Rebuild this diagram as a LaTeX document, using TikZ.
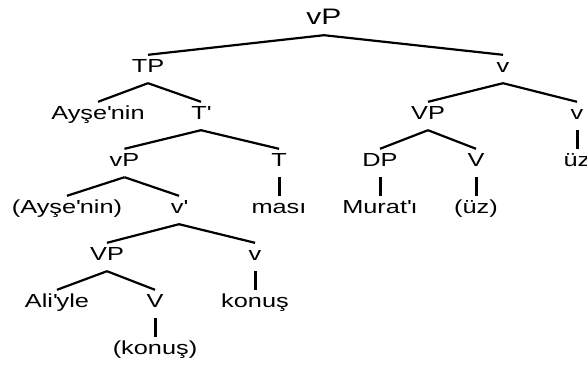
\documentclass[tikz,border=0pt]{standalone}
\usepackage{fontspec}
\setmainfont{Liberation Sans}[FakeStretch=1.34]
\usetikzlibrary{positioning}

\begin{document}
\begin{tikzpicture}[node distance=47pt,on grid]
  \tikzstyle{word}=[inner sep=0pt,text height=17.8pt,text depth=10.2pt,font=\fontsize{18.9pt}{20pt}\selectfont]
  \tikzstyle{rootword}=[inner sep=0pt,text height=20pt,text depth=11pt,font=\fontsize{22.4pt}{24pt}\selectfont]
  \tikzstyle{branch}=[line width=2.2pt]
  \tikzstyle{bar}=[line width=3pt]

  \useasboundingbox (0pt,0pt) rectangle (587pt,-367pt);

  % Top
  \node[rootword] (vP) at (324pt,-19.5pt) {vP};

  \node[word] (TP) [below left=49.5pt and 176pt of vP] {TP};
  \node[word] (v1) [below right=49.5pt and 179pt of vP] {v};

  % Left block (TP)
  \node[word] (Ayse) [below left=47pt and 50pt of TP] {Ayşe\textquotesingle nin};
  \node[word] (Tbar) [below right=47pt and 53pt of TP] {T\textquotesingle};

  \node[word] (vP2) [below left=47pt and 76.5pt of Tbar] {vP};
  \node[word] (T) [below right=47pt and 78pt of Tbar] {T};
  \node[word] (masi) [below=of T] {ması};

  \node[word] (Ayse2) [below left=47pt and 57.5pt of vP2] {(Ayşe\textquotesingle nin)};
  \node[word] (vbar) [below right=47pt and 54.5pt of vP2] {v\textquotesingle};

  \node[word] (VP2) [below left=47pt and 72pt of vbar] {VP};
  \node[word] (v3) [below right=47pt and 76pt of vbar] {v};
  \node[word] (konus) [below=of v3] {konuş};

  \node[word] (Ali) [below left=47pt and 50pt of VP2] {Ali\textquotesingle yle};
  \node[word] (V2) [below right=47pt and 48pt of VP2] {V};
  \node[word] (konus2) [below=of V2] {(konuş)};

  % Right block (v)
  \node[word] (VP1) [below left=47pt and 75pt of v1] {VP};
  \node[word] (v2) [below right=47pt and 74pt of v1] {v};
  \node[word] (uz) [below=of v2] {üz};

  \node[word] (DP) [below left=47pt and 48pt of VP1] {DP};
  \node[word] (V1) [below right=47pt and 48pt of VP1] {V};
  \node[word] (Murat) [below=of DP] {Murat\textquotesingle ı};
  \node[word] (uz2) [below=of V1] {(üz)};

  % Branches
  \path[branch]
    (vP.south) edge (TP.north)
    (vP.south) edge (v1.north)

    (TP.south) edge (Ayse.north)
    (TP.south) edge (Tbar.north)
    (Tbar.south) edge (vP2.north)
    (Tbar.south) edge (T.north)
    (vP2.south) edge (Ayse2.north)
    (vP2.south) edge (vbar.north)
    (vbar.south) edge (VP2.north)
    (vbar.south) edge (v3.north)
    (VP2.south) edge (Ali.north)
    (VP2.south) edge (V2.north)

    (v1.south) edge (VP1.north)
    (v1.south) edge (v2.north)
    (VP1.south) edge (DP.north)
    (VP1.south) edge (V1.north);

  % Single daughters
  \path[bar]
    (T.south) edge (masi.north)
    (v3.south) edge (konus.north)
    (V2.south) edge (konus2.north)
    (v2.south) edge (uz.north)
    (DP.south) edge (Murat.north)
    (V1.south) edge (uz2.north);
\end{tikzpicture}
\end{document}
